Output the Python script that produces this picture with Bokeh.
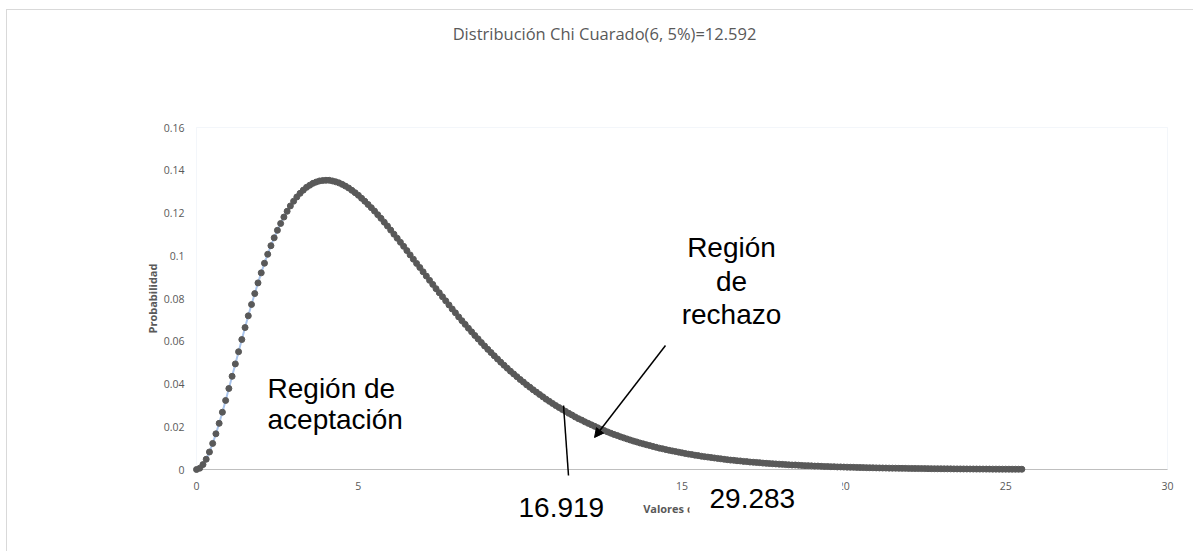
import math
from bokeh.plotting import figure
from bokeh.models import (Range1d, FixedTicker, Label, Arrow, NormalHead,
                          BoxAnnotation)
from bokeh.embed import file_html
from bokeh.resources import INLINE

# ---------------- data ----------------
x_start = 0.0
x_step = 0.1

prob_00 = [0.0, 0.0006, 0.0023, 0.0048, 0.0082, 0.0122, 0.0167, 0.0216, 0.0268, 0.0323]
prob_01 = [0.0379, 0.0436, 0.0494, 0.0551, 0.0608, 0.0664, 0.0719, 0.0772, 0.0823, 0.0873]
prob_02 = [0.0920, 0.0965, 0.1007, 0.1047, 0.1084, 0.1119, 0.1151, 0.1181, 0.1208, 0.1233]
prob_03 = [0.1255, 0.1275, 0.1292, 0.1307, 0.1320, 0.1330, 0.1339, 0.1345, 0.1350, 0.1352]
prob_04 = [0.1353, 0.1353, 0.1350, 0.1346, 0.1341, 0.1334, 0.1326, 0.1317, 0.1306, 0.1295]
prob_05 = [0.1283, 0.1269, 0.1255, 0.1240, 0.1225, 0.1209, 0.1192, 0.1175, 0.1157, 0.1139]
prob_06 = [0.1120, 0.1101, 0.1082, 0.1063, 0.1044, 0.1024, 0.1004, 0.0984, 0.0964, 0.0945]
prob_07 = [0.0925, 0.0905, 0.0885, 0.0866, 0.0846, 0.0827, 0.0808, 0.0789, 0.0770, 0.0751]
prob_08 = [0.0733, 0.0714, 0.0696, 0.0679, 0.0661, 0.0644, 0.0627, 0.0611, 0.0594, 0.0578]
prob_09 = [0.0562, 0.0547, 0.0532, 0.0517, 0.0502, 0.0488, 0.0474, 0.0460, 0.0447, 0.0434]
prob_10 = [0.0421, 0.0409, 0.0396, 0.0385, 0.0373, 0.0362, 0.0351, 0.0340, 0.0329, 0.0319]
prob_11 = [0.0309, 0.0299, 0.0290, 0.0281, 0.0272, 0.0263, 0.0255, 0.0246, 0.0238, 0.0231]
prob_12 = [0.0223, 0.0216, 0.0209, 0.0202, 0.0195, 0.0188, 0.0182, 0.0176, 0.0170, 0.0164]
prob_13 = [0.0159, 0.0153, 0.0148, 0.0143, 0.0138, 0.0133, 0.0129, 0.0124, 0.0120, 0.0116]
prob_14 = [0.0112, 0.0108, 0.0104, 0.0100, 0.0097, 0.0093, 0.0090, 0.0087, 0.0084, 0.0081]
prob_15 = [0.0078, 0.0075, 0.0072, 0.0070, 0.0067, 0.0065, 0.0062, 0.0060, 0.0058, 0.0056]
prob_16 = [0.0054, 0.0052, 0.0050, 0.0048, 0.0046, 0.0044, 0.0043, 0.0041, 0.0040, 0.0038]
prob_17 = [0.0037, 0.0035, 0.0034, 0.0033, 0.0032, 0.0030, 0.0029, 0.0028, 0.0027, 0.0026]
prob_18 = [0.0025, 0.0024, 0.0023, 0.0022, 0.0021, 0.0021, 0.0020, 0.0019, 0.0018, 0.0018]
prob_19 = [0.0017, 0.0016, 0.0016, 0.0015, 0.0014, 0.0014, 0.0013, 0.0013, 0.0012, 0.0012]
prob_20 = [0.00114, 0.00109, 0.00105, 0.00101, 0.00097, 0.00093, 0.00089, 0.00086, 0.00082, 0.00079]
prob_21 = [0.00076, 0.00073, 0.00070, 0.00067, 0.00064, 0.00062, 0.00060, 0.00057, 0.00055, 0.00053]
prob_22 = [0.00051, 0.00049, 0.00047, 0.00045, 0.00043, 0.00041, 0.00040, 0.00038, 0.00036, 0.00035]
prob_23 = [0.00033, 0.00032, 0.00031, 0.00030, 0.00028, 0.00027, 0.00026, 0.00025, 0.00024, 0.00023]
prob_24 = [0.00022, 0.00021, 0.00020, 0.00020, 0.00019, 0.00018, 0.00017, 0.00017, 0.00016, 0.00015]
prob_25 = [0.00015, 0.00014, 0.00013, 0.00013, 0.00012, 0.00012]

x_ticks = [0, 5, 10, 15, 20, 25, 30]
y_ticks = [0, 0.02, 0.04, 0.06, 0.08, 0.1, 0.12, 0.14, 0.16]
y_tick_labels = ["0", "0.02", "0.04", "0.06", "0.08", "0.1", "0.12", "0.14", "0.16"]

title_text = "Distribución Chi Cuarado(6, 5%)=12.592"
x_title = "Valores de Chi"
y_title = "Probabilidad"

probabilidad = (prob_00 + prob_01 + prob_02 + prob_03 + prob_04 + prob_05 + prob_06 +
                prob_07 + prob_08 + prob_09 + prob_10 + prob_11 + prob_12 + prob_13 +
                prob_14 + prob_15 + prob_16 + prob_17 + prob_18 + prob_19 + prob_20 +
                prob_21 + prob_22 + prob_23 + prob_24 + prob_25)
valores = [round(x_start + i * x_step, 1) for i in range(len(probabilidad))]

# ---------------- figure ----------------
# page pixels: x=0 -> 196, x=30 -> 1167 ; y=0 -> 469, y=0.16 -> 127
# frame spans page x 47..1194, y 10..528
GRAY = "#595959"
p = figure(width=1187, height=542, output_backend="svg", toolbar_location=None,
           x_range=Range1d(-4.6035, 30.834), y_range=Range1d(-0.027602, 0.214737),
           min_border_left=40, min_border_right=0, min_border_top=0,
           min_border_bottom=24)
p.margin = (9, 0, 0, 6)
p.styles = {"border-top": "1px solid #d9d9d9", "border-left": "1px solid #d9d9d9"}
p.background_fill_color = "white"
p.border_fill_color = "white"
p.outline_line_color = None
p.xgrid.visible = False
p.ygrid.visible = False

for ax in (p.xaxis, p.yaxis):
    ax.fixed_location = 0
    ax.axis_line_color = None
    ax.major_tick_line_color = None
    ax.minor_tick_line_color = None
    ax.major_tick_out = 0
    ax.major_tick_in = 0
    ax.minor_tick_out = 0
    ax.minor_tick_in = 0
    ax.major_label_text_color = GRAY
    ax.major_label_text_font = "Open Sans"
    ax.major_label_text_font_size = "10.5px"

p.xaxis.ticker = FixedTicker(ticks=x_ticks)
p.yaxis.ticker = FixedTicker(ticks=y_ticks)
p.yaxis.major_label_overrides = {t: s for t, s in zip(y_ticks, y_tick_labels)}
p.xaxis.major_label_standoff = 12
p.yaxis.major_label_standoff = 12

# plot-area frame and x axis line
p.add_layout(BoxAnnotation(left=0, right=30, bottom=0, top=0.16, fill_alpha=0,
                           line_color="#d6e0f0", line_width=1, level="underlay"))
p.segment(x0=[0], y0=[0], x1=[30], y1=[0], line_color="#bfbfbf", line_width=1)

# series
p.line(valores, probabilidad, line_color="#a9c4eb", line_width=2)
p.scatter(valores, probabilidad, size=6, fill_color=GRAY, line_color=GRAY, line_width=1)

# title and axis titles
p.add_layout(Label(x=12.605, y=0.20398, text=title_text, text_align="center",
                   text_baseline="middle", text_font="Open Sans",
                   text_font_size="16.5px", text_color=GRAY))
p.add_layout(Label(x=15, y=-0.01825, text=x_title, text_align="center",
                   text_baseline="middle", text_font="Open Sans", text_font_size="11px",
                   text_font_style="bold", text_color=GRAY))
p.add_layout(Label(x=-1.3594, y=0.08, text=y_title, text_align="center",
                   text_baseline="middle", text_font="Open Sans", text_font_size="11px",
                   text_font_style="bold", text_color=GRAY, angle=math.pi / 2))

# annotations
TF = "Liberation Sans"
FS = "28px"
for txt, xx, yy, al in [("Región de", 2.194, 0.03789, "left"),
                        ("aceptación", 2.194, 0.02339, "left"),
                        ("Región", 16.529, 0.10386, "center"),
                        ("de", 16.529, 0.08795, "center"),
                        ("rechazo", 16.529, 0.07251, "center")]:
    p.add_layout(Label(x=xx, y=yy, text=txt, text_align=al, text_baseline="alphabetic",
                       text_font=TF, text_font_size=FS, text_color="black"))

# text boxes with white fill (anchored at the box's top-left corner)
p.add_layout(Label(x=9.701, y=-0.005146, text="16.919", text_align="left",
                   text_baseline="top", text_font=TF, text_font_size=FS,
                   text_color="black", background_fill_color="white",
                   background_fill_alpha=1.0,
                   padding=dict(top=17, right=8, bottom=4, left=8)))
p.add_layout(Label(x=15.232, y=-0.004211, text="29.283", text_align="left",
                   text_baseline="top", text_font=TF, text_font_size=FS,
                   text_color="black", background_fill_color="white",
                   background_fill_alpha=1.0,
                   padding=dict(top=10, right=47, bottom=12, left=20)))

p.add_layout(Arrow(end=None, x_start=11.339, y_start=0.02994, x_end=11.493, y_end=-0.00281,
                   line_color="black", line_width=1.5))
p.add_layout(Arrow(end=NormalHead(size=9, fill_color="black", line_color="black"),
                   x_start=14.490, y_start=0.05801, x_end=12.297, y_end=0.01497,
                   line_color="black", line_width=1.5))

open("out.html", "w").write(file_html(p, INLINE))
